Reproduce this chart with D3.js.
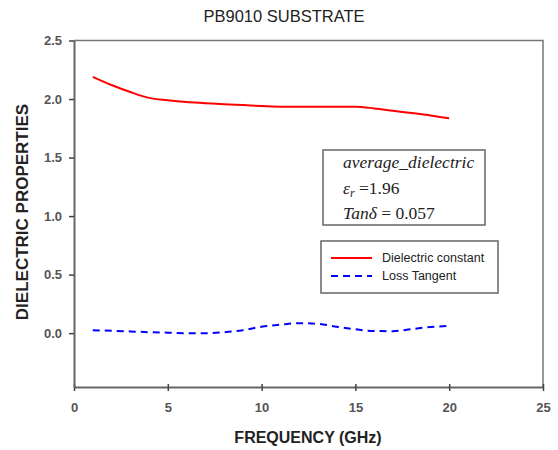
<!DOCTYPE html>
<html><head><meta charset="utf-8">
<script src="https://cdn.jsdelivr.net/npm/d3@7"></script>
<style>body{margin:0;background:#fff}svg{display:block}</style>
</head><body>
<script>
const frequency = [1,2,3,4,5,6,7,8,9,10,11,12,13,14,15,16,17,18,19,20];
const dielectricConstant = [2.19,2.12,2.06,2.01,1.99,1.975,1.965,1.955,1.948,1.94,1.935,1.934,1.934,1.934,1.934,1.92,1.90,1.88,1.86,1.835];
const lossTangent = [0.025,0.02,0.015,0.008,0.004,0.0,0.0,0.008,0.025,0.055,0.072,0.085,0.08,0.055,0.033,0.018,0.017,0.035,0.052,0.063];
const xTicks = [0,5,10,15,20,25];
const yTicks = [0.0,0.5,1.0,1.5,2.0,2.5];
const seriesNames = ["Dielectric constant","Loss Tangent"];
const annotationLines = ["average_dielectric","ε","Tanδ = 0.057"];

const W=558,H=450;
const svg=d3.select("body").append("svg").attr("width",W).attr("height",H);
const x=d3.scaleLinear().domain([0,25]).range([74,543]);
const y=d3.scaleLinear().domain([-0.46,2.5]).range([387,40.5]);

// frame top/right
svg.append("path").attr("d",`M74,${y(2.5)}H543V387`).attr("fill","none").attr("stroke","#777").attr("stroke-width",1.5);

const xa=svg.append("g").attr("transform","translate(0,387)")
  .call(d3.axisBottom(x).tickValues(xTicks).tickFormat(d3.format("d")).tickSize(4).tickSizeOuter(0));
const ya=svg.append("g").attr("transform","translate(74,0)")
  .call(d3.axisLeft(y).tickValues(yTicks).tickFormat(d3.format(".1f")).tickSize(5).tickSizeOuter(0));
[xa,ya].forEach(g=>{
  g.select(".domain").attr("stroke","#666").attr("stroke-width",2);
  g.selectAll(".tick line").attr("stroke","#444").attr("stroke-width",1.5);
  g.selectAll(".tick text").attr("fill","#555").attr("font-family","Arial, 'Liberation Sans', sans-serif").attr("font-size",13).attr("font-weight","bold");
});
xa.selectAll(".tick line").attr("y1",-3);
xa.selectAll(".tick text").attr("y",16);
ya.selectAll(".tick text").attr("x",-12);

const line=d3.line().x((d,i)=>x(frequency[i])).y(d=>y(d)).curve(d3.curveMonotoneX);
svg.append("path").datum(dielectricConstant).attr("d",line).attr("fill","none").attr("stroke","#ff0000").attr("stroke-width",2);
svg.append("path").datum(lossTangent).attr("d",line).attr("fill","none").attr("stroke","#0000ff").attr("stroke-width",2).attr("stroke-dasharray","7,5");

// titles
svg.append("text").attr("x",284).attr("y",22).attr("text-anchor","middle").attr("font-family","Arial, 'Liberation Sans', sans-serif").attr("font-size",16.5).attr("fill","#222").text("PB9010 SUBSTRATE");
svg.append("text").attr("x",308).attr("y",443).attr("text-anchor","middle").attr("font-family","Arial, 'Liberation Sans', sans-serif").attr("font-size",16).attr("font-weight","bold").attr("fill","#222").text("FREQUENCY (GHz)");
svg.append("text").attr("transform","translate(28,212) rotate(-90)").attr("text-anchor","middle").attr("font-family","Arial, 'Liberation Sans', sans-serif").attr("font-size",17).attr("font-weight","bold").attr("fill","#222").text("DIELECTRIC PROPERTIES");

// annotation box
svg.append("rect").attr("x",323).attr("y",150).attr("width",162).attr("height",75).attr("fill","#fff").attr("stroke","#666").attr("stroke-width",1.5);
const serif="'Liberation Serif','Times New Roman',serif";
svg.append("text").attr("x",343).attr("y",168).attr("font-family",serif).attr("font-style","italic").attr("font-size",17.5).attr("fill","#222").text(annotationLines[0]);
const t2=svg.append("text").attr("x",343).attr("y",194).attr("font-family",serif).attr("font-size",17.5).attr("fill","#222");
t2.append("tspan").attr("font-style","italic").text(annotationLines[1]);
t2.append("tspan").attr("font-style","italic").attr("font-size",12).attr("dy",3).text("r");
t2.append("tspan").attr("dy",-3).text(" =1.96");
const t3=svg.append("text").attr("x",343).attr("y",219).attr("font-family",serif).attr("font-size",17.5).attr("fill","#222");
t3.append("tspan").attr("font-style","italic").text("Tanδ");
t3.append("tspan").text(" = 0.057");

// legend
svg.append("rect").attr("x",321).attr("y",241).attr("width",177).attr("height",52).attr("fill","#fff").attr("stroke","#666").attr("stroke-width",1.5);
const leg=[{c:"#ff0000",d:null},{c:"#0000ff",d:"7,5"}];
leg.forEach((l,i)=>{
  const yy=258+i*18;
  svg.append("line").attr("x1",331).attr("x2",372).attr("y1",yy).attr("y2",yy).attr("stroke",l.c).attr("stroke-width",2).attr("stroke-dasharray",l.d);
  svg.append("text").attr("x",382).attr("y",yy+4).attr("font-family","Arial, 'Liberation Sans', sans-serif").attr("font-size",12.5).attr("fill","#222").text(seriesNames[i]);
});
</script>
</body></html>
